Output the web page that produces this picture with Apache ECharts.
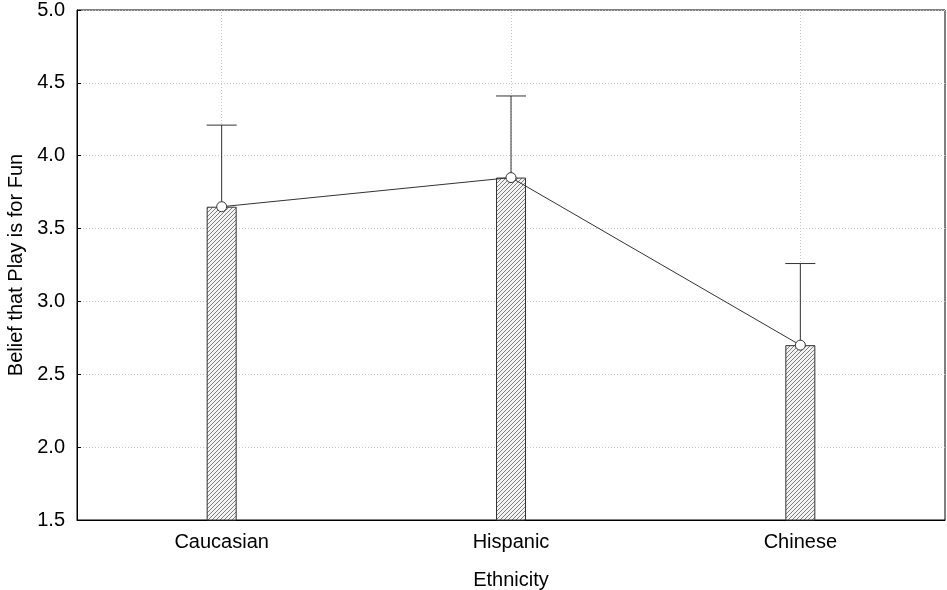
<!DOCTYPE html>
<html>
<head>
<meta charset="utf-8">
<script src="https://cdn.jsdelivr.net/npm/echarts@6/dist/echarts.min.js"></script>
<style>
  html, body { margin: 0; padding: 0; background: #fff; }
  #chart { width: 947px; height: 590px; }
</style>
</head>
<body>
<div id="chart"></div>
<script>
// Group means and upper confidence limits
const categories = ['Caucasian', 'Hispanic', 'Chinese'];
const means = [3.65, 3.85, 2.70];
const upperLimits = [4.21, 4.41, 3.26];
const yTicks = [1.5, 2.0, 2.5, 3.0, 3.5, 4.0, 4.5, 5.0];

// Diagonal hatch fill for the bars
function makeHatch() {
  const c = document.createElement('canvas');
  c.width = 4; c.height = 4;
  const ctx = c.getContext('2d');
  ctx.fillStyle = '#f4f4f4';
  ctx.fillRect(0, 0, 4, 4);
  ctx.fillStyle = '#7c7c7c';
  for (let i = 0; i < 4; i++) ctx.fillRect(i, 3 - i, 1, 1);
  return c;
}

const FONT = '"Liberation Sans", Arial, sans-serif';
const chart = echarts.init(document.getElementById('chart'), null, { renderer: 'canvas' });

chart.setOption({
  animation: false,
  backgroundColor: '#fff',
  grid: {
    left: 77, right: 2, top: 10, bottom: 70,
    containLabel: false,
    outerBoundsMode: 'none',
    show: true, borderColor: '#000', borderWidth: 1, backgroundColor: 'transparent'
  },
  xAxis: {
    type: 'category',
    data: categories,
    name: 'Ethnicity',
    nameLocation: 'middle',
    nameGap: 50,
    nameTextStyle: { fontFamily: FONT, fontSize: 20, color: '#000' },
    axisLine: { lineStyle: { color: '#000', width: 1 } },
    axisTick: { show: true, inside: true, alignWithLabel: true, length: 5, lineStyle: { color: '#000' } },
    axisLabel: { fontFamily: FONT, fontSize: 20, color: '#000', margin: 12 },
    splitLine: { show: false }
  },
  yAxis: {
    type: 'value',
    min: 1.5, max: 5.0, interval: 0.5,
    name: 'Belief that Play is for Fun',
    nameLocation: 'middle',
    nameGap: 46,
    nameTextStyle: { fontFamily: FONT, fontSize: 20, color: '#000' },
    axisLine: { show: true, lineStyle: { color: '#000', width: 1 } },
    axisTick: { show: true, inside: true, length: 4, lineStyle: { color: '#000' } },
    axisLabel: {
      fontFamily: FONT, fontSize: 20, color: '#000', margin: 12,
      formatter: v => yTicks.includes(+v.toFixed(1)) ? v.toFixed(1) : ''
    },
    splitLine: { show: true, lineStyle: { color: '#c8c8c8', type: [1, 2], width: 1 } }
  },
  series: [
    {
      type: 'bar',
      data: means,
      barWidth: 30,
      itemStyle: {
        color: { image: makeHatch(), repeat: 'repeat' },
        borderColor: '#333', borderWidth: 1
      },
      markLine: {
        silent: true,
        symbol: 'none',
        label: { show: false },
        lineStyle: { color: '#c8c8c8', type: [1, 2], width: 1 },
        data: categories.map(c => ({ xAxis: c })),
        z: 0
      },
      z: 2
    },
    {
      type: 'custom',
      data: categories.map((c, i) => [i, means[i], upperLimits[i]]),
      renderItem: function (params, api) {
        const x = api.value(0);
        const p0 = api.coord([x, api.value(1)]);
        const p1 = api.coord([x, api.value(2)]);
        const half = 15;
        const style = { stroke: '#333', lineWidth: 1 };
        return {
          type: 'group',
          children: [
            { type: 'line', shape: { x1: p0[0], y1: p0[1], x2: p1[0], y2: p1[1] }, style },
            { type: 'line', shape: { x1: p1[0] - half, y1: p1[1], x2: p1[0] + half, y2: p1[1] }, style }
          ]
        };
      },
      z: 3
    },
    {
      type: 'line',
      data: means,
      symbol: 'circle',
      symbolSize: 10,
      lineStyle: { color: '#333', width: 1 },
      itemStyle: { color: '#fff', borderColor: '#333', borderWidth: 1 },
      z: 4
    }
  ]
});
</script>
</body>
</html>
